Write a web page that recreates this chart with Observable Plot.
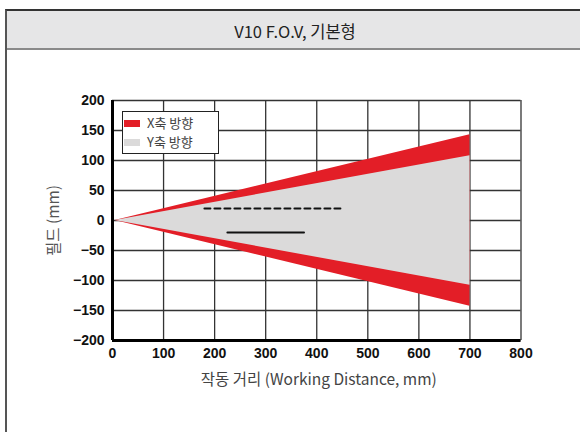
<!DOCTYPE html>
<html><head><meta charset="utf-8">
<script src="https://cdn.jsdelivr.net/npm/d3@7"></script>
<script src="https://cdn.jsdelivr.net/npm/@observablehq/plot@0.6"></script>
<style>
body{margin:0;background:#fff;font-family:"Liberation Sans",Arial,sans-serif;}
#wrap{position:relative;width:580px;height:432px;overflow:hidden;}
#frame{position:absolute;left:5px;top:9px;width:600px;height:460px;border-left:2px solid #555;border-top:2px solid #333;}
#header{position:absolute;left:7px;top:11px;width:600px;height:37px;background:#e6e6e7;border-bottom:2px solid #8a8a8a;}
#title{position:absolute;left:0;width:590px;top:19px;text-align:center;font-size:16.5px;color:#222;font-family:"Noto Sans CJK KR","Liberation Sans",sans-serif;}
#legend{position:absolute;left:122px;top:111px;width:95px;height:41px;border:1px solid #222;background:#fff;font-family:"Noto Sans CJK KR",sans-serif;font-size:13px;color:#444;}
.item{position:absolute;left:1px;height:16px;line-height:16px;}
.sw{position:absolute;left:0;top:5px;width:16px;height:7px;}
.lt{position:absolute;left:23px;top:0;white-space:nowrap;}
#chart{position:absolute;left:0;top:0;}
</style></head>
<body>
<div id="wrap">
<div id="frame"></div>
<div id="header"></div>
<div id="title">V10 F.O.V, 기본형</div>
<div id="chart"></div>
<div id="legend"></div>
</div>
<script>
// Data
const distance = [5, 700];          // working distance (mm)
const xHalfWidth = [0, 143];        // X-direction half field (mm)
const yHalfWidth = [0, 108];        // Y-direction half field (mm)
const dashedX = [180, 450], dashedY = 20;
const solidX = [225, 375], solidY = -20;
const xTicks = [0, 100, 200, 300, 400, 500, 600, 700, 800];
const yTicks = [-200, -150, -100, -50, 0, 50, 100, 150, 200];
const seriesNames = ["X축 방향", "Y축 방향"];
const seriesColors = ["#e31e27", "#dbdada"];

const xArea = distance.map((d, i) => ({x: d, lo: -xHalfWidth[i], hi: xHalfWidth[i]}));
const yArea = distance.map((d, i) => ({x: d, lo: -yHalfWidth[i], hi: yHalfWidth[i]}));
const dashed = dashedX.map(x => ({x, y: dashedY}));
const solid = solidX.map(x => ({x, y: solidY}));

const chart = Plot.plot({
  width: 580, height: 432,
  marginLeft: 112, marginRight: 59.5, marginTop: 100, marginBottom: 92,
  style: {fontFamily: "'Liberation Sans', Arial, sans-serif", background: "transparent", overflow: "visible"},
  x: {domain: [0, 800]},
  y: {domain: [-200, 200]},
  marks: [
    Plot.gridX(xTicks, {stroke: "#333", strokeOpacity: 1, strokeWidth: 1.3}),
    Plot.gridY(yTicks, {stroke: "#333", strokeOpacity: 1, strokeWidth: 1.3}),
    Plot.areaY(xArea, {x: "x", y1: "lo", y2: "hi", fill: seriesColors[0]}),
    Plot.areaY(yArea, {x: "x", y1: "lo", y2: "hi", fill: seriesColors[1]}),
    Plot.line(dashed, {x: "x", y: "y", stroke: "#111", strokeWidth: 2, strokeDasharray: "6,4"}),
    Plot.line(solid, {x: "x", y: "y", stroke: "#111", strokeWidth: 2}),
    Plot.ruleX([0], {stroke: "#000", strokeWidth: 3}),
    Plot.ruleY([-200], {stroke: "#000", strokeWidth: 3}),
    Plot.axisX(xTicks, {tickSize: 0, tickPadding: 8, fontSize: 14, fontWeight: "bold", fill: "#111", label: null}),
    Plot.axisY(yTicks, {tickSize: 0, tickPadding: 8, fontSize: 14, fontWeight: "bold", fill: "#111", label: null}),
    Plot.text(["작동 거리 (Working Distance, mm)"], {frameAnchor: "bottom", dy: 44, fontSize: 15.5, fill: "#444", fontFamily: "'Noto Sans CJK KR', sans-serif", dx: 2}),
    Plot.text(["필드 (mm)"], {frameAnchor: "left", textAnchor: "middle", dx: -58, rotate: -90, fontSize: 15.5, fill: "#555", fontFamily: "'Noto Sans CJK KR', sans-serif"})
  ]
});
document.getElementById("chart").appendChild(chart);

const legend = document.getElementById("legend");
seriesNames.forEach((name, i) => {
  const item = document.createElement("div");
  item.className = "item";
  item.style.top = (3 + i * 19) + "px";
  item.innerHTML = `<span class="sw" style="background:${seriesColors[i]}"></span><span class="lt">${name}</span>`;
  legend.appendChild(item);
});
</script>
</body></html>
